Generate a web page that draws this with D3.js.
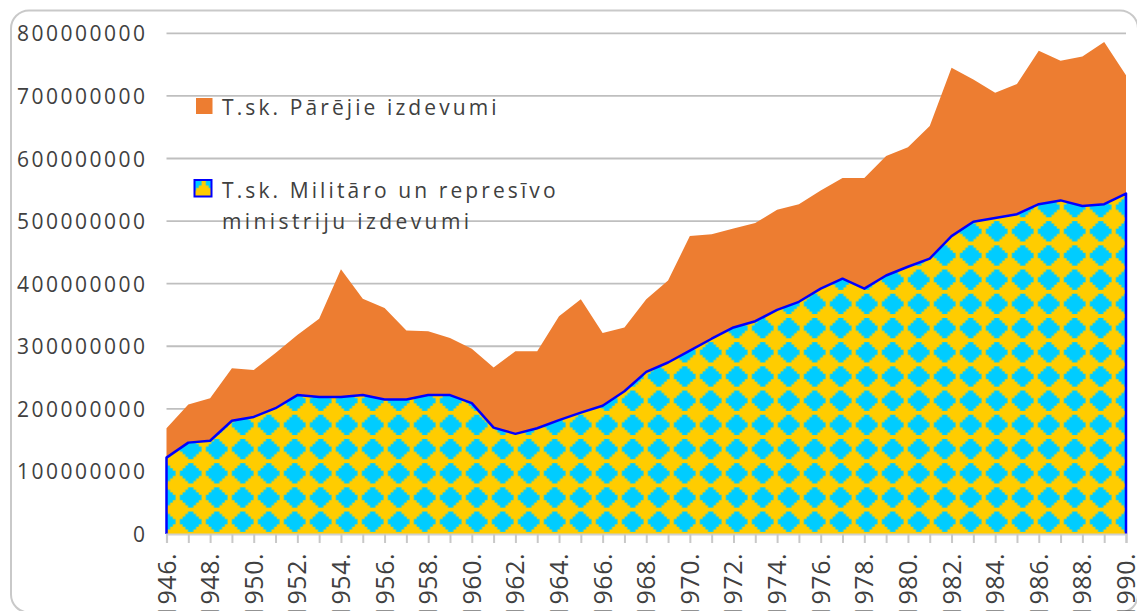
<!DOCTYPE html>
<meta charset="utf-8">
<style>
body {
  margin: 0;
  background: #fff;
  font-family: 'Open Sans', sans-serif;
}
.tick-label {
  font-size: 21px;
  fill: #404040;
}
.year-label {
  font-size: 25px;
  fill: #404040;
}
.legend text {
  font-size: 21px;
  fill: #404040;
  letter-spacing: 3.1px;
}
</style>
<body>
<svg id="chart" width="1137" height="611"></svg>
<script src="https://d3js.org/d3.v7.min.js"></script>
<script>

// years on the axis
var years = d3.range(1946, 1991);

// T.sk. Militaro un represivo ministriju izdevumi
var military = [122, 146, 149, 181, 187, 201, 222, 219, 219, 222,
                215, 215, 222, 222, 209, 170, 160, 169, 182, 194,
                205, 228, 259, 274, 293, 312, 330, 340, 358, 371,
                392, 408, 392, 413, 427, 440, 476, 499, 505, 511,
                527, 533, 524, 527, 544];

// T.sk. Parejie izdevumi (stacked on top)
var other = [47, 61, 68, 84, 75, 88, 96, 125, 204, 154,
             146, 110, 102, 91, 87, 96, 132, 123, 166, 181,
             116, 102, 116, 131, 183, 167, 158, 157, 160, 156,
             157, 161, 177, 191, 191, 212, 269, 227, 200, 208,
             245, 223, 239, 259, 189];

var yTicks = [0, 100000000, 200000000, 300000000, 400000000,
              500000000, 600000000, 700000000, 800000000];

var seriesNames = ["T.sk. Pārējie izdevumi",
                   "T.sk. Militāro un represīvo ministriju izdevumi"];

var rows = years.map(function(y, i) {
  return {year: y, military: military[i] * 1e6, other: other[i] * 1e6};
});

var svg = d3.select("#chart");

var x = d3.scaleLinear().domain([1946, 1990]).range([166.5, 1126]);
var y = d3.scaleLinear().domain([0, 800000000]).range([534, 33.3]);

// pattern: cyan stepped diamonds on yellow
var pw = 26, ph = 24.2;
var defs = svg.append("defs");
var pat = defs.append("pattern")
    .attr("id", "diamonds")
    .attr("patternUnits", "userSpaceOnUse")
    .attr("x", 164.7 - pw / 2)
    .attr("y", 521.7 - ph / 2)
    .attr("width", pw)
    .attr("height", ph);
pat.append("rect").attr("width", pw).attr("height", ph).attr("fill", "#FFCC00");

function steppedDiamond(cx, cy, a, b, n) {
  var q = [];
  for (var k = 1; k <= n; k++) {
    q.push([k * a / n, -b + (k - 1) * b / n]);
    q.push([k * a / n, -b + k * b / n]);
  }
  var pts = [[0, -b]].concat(q);
  for (var i = q.length - 1; i >= 0; i--) pts.push([q[i][0], -q[i][1]]);
  pts.push([0, b]);
  for (var i = 0; i < q.length; i++) pts.push([-q[i][0], -q[i][1]]);
  for (var i = q.length - 1; i >= 0; i--) pts.push([-q[i][0], q[i][1]]);
  return "M" + pts.map(function(p) { return (cx + p[0]) + "," + (cy + p[1]); }).join("L") + "Z";
}
pat.append("path")
    .attr("d", steppedDiamond(pw / 2, ph / 2, 10.8, 10.2, 4))
    .attr("fill", "#00CCFF");

// outer frame
svg.append("rect")
    .attr("x", 11).attr("y", 10.5)
    .attr("width", 1127).attr("height", 602)
    .attr("rx", 18)
    .attr("fill", "none")
    .attr("stroke", "#c9c9c9")
    .attr("stroke-width", 2);

// gridlines
svg.append("g")
  .selectAll("line")
  .data(yTicks.slice(1))
  .enter().append("line")
    .attr("x1", x(1946)).attr("x2", x(1990))
    .attr("y1", function(d) { return y(d); })
    .attr("y2", function(d) { return y(d); })
    .attr("stroke", "#bfbfbf")
    .attr("stroke-width", 1.8);

var stack = d3.stack().keys(["military", "other"]);
var layers = stack(rows);

var area = d3.area()
    .x(function(d) { return x(d.data.year); })
    .y0(function(d) { return y(d[0]); })
    .y1(function(d) { return y(d[1]); });

svg.append("path")
    .datum(layers[1])
    .attr("d", area)
    .attr("fill", "#ED7D31");

svg.append("path")
    .datum(layers[0])
    .attr("d", area)
    .attr("fill", "url(#diamonds)");

// blue outline of the military area (left side, top, right side)
var outline = d3.line()
    .x(function(d) { return x(d[0]); })
    .y(function(d) { return y(d[1]); });
var outlinePts = [[1946, 0]]
  .concat(rows.map(function(d) { return [d.year, d.military]; }))
  .concat([[1990, 0]]);
svg.append("path")
    .datum(outlinePts)
    .attr("d", outline)
    .attr("fill", "none")
    .attr("stroke", "#0000FF")
    .attr("stroke-width", 2.5)
    .attr("stroke-linejoin", "round");

// x axis
var xAxis = d3.axisBottom(x)
    .tickValues(years)
    .tickSize(9)
    .tickFormat("");
var gx = svg.append("g")
    .attr("transform", "translate(0,534)")
    .call(xAxis);
gx.select(".domain").attr("stroke", "#d0d0d0").attr("stroke-width", 2.2);
gx.selectAll(".tick line").attr("stroke", "#c8c8c8").attr("stroke-width", 2);

svg.append("g")
  .selectAll("text")
  .data(years.filter(function(d) { return d % 2 === 0; }))
  .enter().append("text")
    .attr("class", "year-label")
    .attr("transform", function(d) { return "translate(" + x(d) + ",553) rotate(-90)"; })
    .attr("dy", "0.36em")
    .attr("text-anchor", "end")
    .style("letter-spacing", "0.5px")
    .text(function(d) { return d + "."; });

// y axis labels
var yAxis = d3.axisLeft(y)
    .tickValues(yTicks)
    .tickSize(0)
    .tickPadding(0)
    .tickFormat(d3.format("d"));
var gy = svg.append("g")
    .attr("transform", "translate(147.5,0)")
    .call(yAxis);
gy.select(".domain").remove();
gy.selectAll(".tick text")
    .attr("class", "tick-label")
    .attr("dy", "0.36em")
    .attr("fill", null)
    .style("letter-spacing", "2.5px");
gy.attr("font-family", null).attr("font-size", null);

// legend
var legend = svg.append("g").attr("class", "legend");
legend.append("rect")
    .attr("x", 196).attr("y", 98)
    .attr("width", 16.5).attr("height", 16)
    .attr("fill", "#ED7D31");
legend.append("text")
    .attr("x", 222).attr("y", 115)
    .text(seriesNames[0]);

legend.append("rect")
    .attr("x", 194.5).attr("y", 180)
    .attr("width", 17).attr("height", 16.5)
    .attr("fill", "url(#diamonds)")
    .attr("stroke", "#0000FF")
    .attr("stroke-width", 2);
legend.append("text")
    .attr("x", 222).attr("y", 198)
    .text("T.sk. Militāro un represīvo");
legend.append("text")
    .attr("x", 222).attr("y", 229)
    .style("letter-spacing", "3.4px")
    .text("ministriju izdevumi");

</script>
</body>
